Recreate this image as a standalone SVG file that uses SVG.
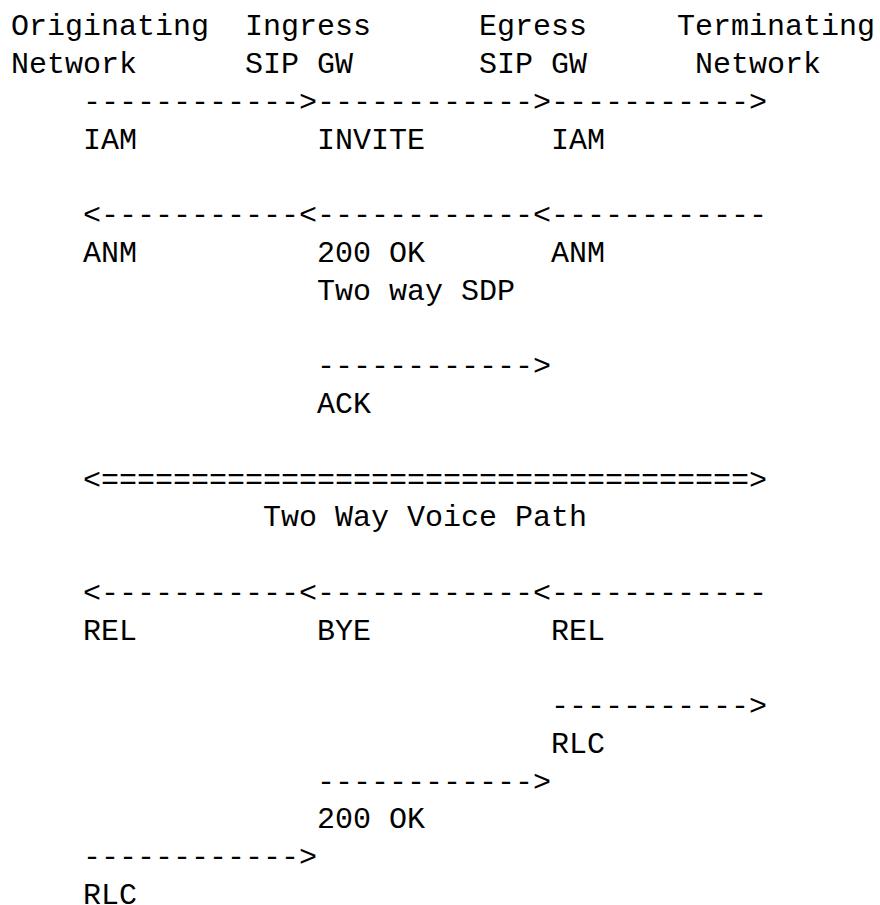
<svg xmlns="http://www.w3.org/2000/svg" width="880" height="905" viewBox="0 0 880 905">
<style>
text{font-family:"Liberation Mono","DejaVu Sans Mono",monospace;font-size:30px;fill:#000;}
</style>
<rect width="880" height="905" fill="#fff"/>
<g id="originating">
<text x="11" y="35.3">Originating</text>
<text x="11" y="73.1">Network</text>
</g>
<g id="ingress">
<text x="245" y="35.3">Ingress</text>
<text x="245" y="73.1">SIP GW</text>
</g>
<g id="egress">
<text x="479" y="35.3">Egress</text>
<text x="479" y="73.1">SIP GW</text>
</g>
<g id="terminating">
<text x="677" y="35.3">Terminating</text>
<text x="695" y="73.1">Network</text>
</g>
<g id="connectors">
<text x="83" y="110.8">------------&gt;------------&gt;-----------&gt;</text>
<text x="83" y="224.2">&lt;-----------&lt;------------&lt;------------</text>
<text x="317" y="375.2">------------&gt;</text>
<text x="83" y="488.5">&lt;====================================&gt;</text>
<text x="83" y="601.8">&lt;-----------&lt;------------&lt;------------</text>
<text x="551" y="715.2">-----------&gt;</text>
<text x="317" y="790.7">------------&gt;</text>
<text x="83" y="866.2">------------&gt;</text>
</g>
<g id="labels">
<text x="83" y="148.6">IAM</text>
<text x="317" y="148.6">INVITE</text>
<text x="551" y="148.6">IAM</text>
<text x="83" y="261.9">ANM</text>
<text x="317" y="261.9">200 OK</text>
<text x="551" y="261.9">ANM</text>
<text x="317" y="299.7">Two way SDP</text>
<text x="317" y="413.0">ACK</text>
<text x="263" y="526.3">Two Way Voice Path</text>
<text x="83" y="639.6">REL</text>
<text x="317" y="639.6">BYE</text>
<text x="551" y="639.6">REL</text>
<text x="551" y="752.9">RLC</text>
<text x="317" y="828.4">200 OK</text>
<text x="83" y="903.5">RLC</text>
</g>
</svg>
